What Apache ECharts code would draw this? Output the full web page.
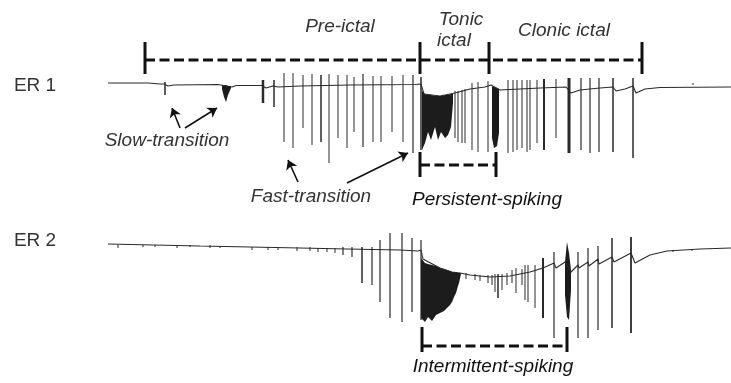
<!DOCTYPE html>
<html>
<head>
<meta charset="utf-8">
<script src="https://cdn.jsdelivr.net/npm/echarts@6/dist/echarts.min.js"></script>
<style>
  html, body { margin: 0; padding: 0; background: #fff; }
  #chart { width: 731px; height: 383px; }
</style>
</head>
<body>
<div id="chart"></div>
<script>
// time in arbitrary units, amplitude in arbitrary units (0 = resting level)

// ER 1 slow baseline [t, v]
const er1Baseline = [
  [0, 0], [40, 0], [52, -1], [56, -1], [60, -3], [66, -2], [110, -1.5], [124, -4], [128, -2.5],
  [154, -2.5], [158, -5], [165, -3], [170, -4], [192, -3], [242, -2], [307, -1.5], [313, -1],
  [316, -11], [332, -13], [347, -10], [362, -6], [377, -4], [383, -2], [392, -7], [432, -5],
  [458, -4], [463, -10], [472, -7], [482, -6], [492, -5], [505, -4], [508, -8], [517, -6],
  [525, -3], [528, -10], [537, -6], [552, -4.5], [623, -4]
];
// ER 1 spikes [t, top, bottom, width]
const er1Spikes = [
  [57, 1, -12, 1.5],
  [155, 3, -20, 2.5], [166, 3, -24, 1.5],
  [176, 10, -59, 1], [185, 10, -65, 1], [195, 8, -45, 1], [204, 9, -62, 1], [213, 8, -59, 1.5],
  [221, 9, -80, 1], [230, 8, -55, 1], [239, 8, -65, 1], [246, 6, -49, 1], [255, 9, -64, 1.2],
  [265, 7, -59, 1], [273, 7, -59, 1], [284, 7, -49, 1], [295, 8, -59, 1], [305, 8, -70, 1.2],
  [313, 6, -67, 1.5],
  [347, -8, -55, 1], [350, -8, -59, 1], [354, -7, -60, 1], [357, -6, -60, 1], [364, 0, -67, 1],
  [370, 1, -69, 1], [380, 2, -69, 1],
  [400, 3, -70, 1], [405, 3, -69, 1], [409, 3, -67, 1], [414, 3, -65, 1], [419, 3, -69, 1],
  [422, 3, -67, 1], [429, 3, -60, 1], [436, 4, -67, 2], [448, 4, -55, 1], [461, 5, -70, 3],
  [473, 5, -67, 1.2], [482, 5, -70, 1.2], [491, 5, -69, 1.2], [505, 5, -69, 1.5], [525, 5, -75, 1.5],
  [585, 0, -2, 1]
];
// ER 1 dense bursts, envelope [t, top, bottom]
const er1Bursts = [
  [[114, -2, -6], [116, -2, -14], [118, -2, -19], [120, -3, -12], [123, -3, -5]],
  [[314, -8, -67], [317, -11, -60], [320, -12, -49], [323, -12, -57], [327, -13, -44], [330, -13, -57],
   [333, -13, -49], [337, -12, -55], [340, -12, -52], [343, -11, -44], [345, -10, -20]],
  [[384, -3, -55], [386, -4, -65], [389, -5, -63], [391, -6, -50]]
];

// ER 2 slow baseline [t, v]
const er2Baseline = [
  [0, 1], [92, -1], [192, -3], [239, -4], [292, -5], [310, -6], [313, -5], [315, -14], [332, -23],
  [344, -27], [352, -28], [362, -30], [382, -32], [402, -31], [422, -27], [435, -23], [446, -18],
  [448, -23], [457, -17], [463, -27], [470, -20], [471, -23], [480, -17], [481, -21], [490, -14],
  [491, -19], [504, -12], [506, -17], [523, -8], [527, -18], [542, -10], [559, -6], [592, -4], [623, -3]
];
// ER 2 spikes [t, top, bottom, width]
const er2Spikes = [
  [10, 0, -3, 1], [35, 0, -2, 1], [47, 0, -2, 1], [69, 0, -3, 1], [82, 0, -2, 1], [102, 0, -3, 1],
  [112, -1, -3, 1], [144, -2, -5, 1], [160, -2, -5, 1], [170, -2, -5, 1], [189, -2, -6, 1],
  [202, -2, -6, 1], [210, -3, -7, 1], [219, -3, -7, 1], [227, -3, -8, 1], [235, -2, -10, 1.2],
  [244, -2, -12, 1.2],
  [254, -2, -38, 1.5], [264, -2, -40, 1.2], [272, 5, -57, 1.2], [282, 12, -73, 1.2], [294, 12, -77, 1.2],
  [304, 7, -67, 1.2], [313, 5, -75, 1.2],
  [358, -28, -34, 1], [367, -29, -35, 1], [372, -30, -36, 1], [380, -30, -38, 1], [384, -30, -40, 1],
  [387, -29, -47, 1], [390, -29, -53, 1.5], [394, -29, -45, 1], [399, -28, -40, 1], [404, -25, -38, 1],
  [408, -23, -48, 1], [414, -24, -40, 1], [417, -20, -55, 1], [420, -20, -57, 1], [427, -20, -63, 1],
  [435, -13, -73, 2], [446, -7, -93, 1.2], [470, -7, -93, 1.2], [480, -3, -93, 1.2],
  [490, -1, -85, 1.2], [504, 7, -83, 1.5], [523, 8, -88, 1.8],
  [565, -5, -7, 1], [584, -4, -6, 1]
];
const er2Bursts = [
  [[313, -13, -73], [317, -18, -77], [320, -19, -72], [324, -20, -76], [328, -21, -70], [332, -23, -68],
   [336, -24, -66], [339, -25, -63], [342, -26, -60], [344, -27, -57], [346, -27, -52], [348, -27, -48],
   [350, -28, -41], [351, -28, -38], [353, -28, -29]],
  [[457, -17, -50], [459, 3, -72], [461, -8, -75], [463, -25, -45]]
];

// phase boundaries (ER 1 time)
const phaseBounds = [37, 312, 381, 534];
const persistentRange = [312, 388];
const intermittentRange = [314, 459];

// arrows [from, to] in ER 1 coordinates
const slowArrows = [[[72, -45], [64, -25]], [[77, -45], [109, -25]]];
const fastArrows = [[[190, -99], [180, -77]], [[239, -100], [300, -70]]];

const INK = '#2a2a2a';

function spikeRender(params, api) {
  const t = api.value(0);
  const p1 = api.coord([t, api.value(1)]);
  const p2 = api.coord([t, api.value(2)]);
  const w = Math.max(api.size([api.value(3), 0])[0], 1);
  return {
    type: 'rect',
    shape: { x: p1[0] - w / 2, y: p1[1], width: w, height: p2[1] - p1[1] },
    style: { fill: INK }
  };
}

function burstSeries(bursts, axis) {
  return {
    type: 'custom',
    xAxisIndex: axis, yAxisIndex: axis,
    data: bursts.map((b, i) => [i]),
    renderItem: function (params, api) {
      const env = bursts[params.dataIndex];
      const top = env.map(p => api.coord([p[0], p[1]]));
      const bot = env.slice().reverse().map(p => api.coord([p[0], p[2]]));
      return { type: 'polygon', shape: { points: top.concat(bot) }, style: { fill: '#1c1c1c' } };
    },
    silent: true
  };
}

// bracket = dashed line + thick end bars
function bracketSeries(bounds, level, barTop, barBottom, axis) {
  return [
    {
      type: 'line', xAxisIndex: axis, yAxisIndex: axis,
      data: [[bounds[0], level], [bounds[bounds.length - 1], level]],
      showSymbol: false, silent: true,
      lineStyle: { color: '#111', width: 3, type: [10, 4.5] }
    },
    {
      type: 'custom', xAxisIndex: axis, yAxisIndex: axis,
      data: bounds.map(b => [b, barTop, barBottom, 3]),
      renderItem: function (params, api) {
        const r = spikeRender(params, api);
        r.style.fill = '#111';
        return r;
      },
      silent: true
    }
  ];
}

const chart = echarts.init(document.getElementById('chart'));

const txt = (text, x, y, font, color) => ({
  type: 'text', x: x, y: y, silent: true,
  style: { text: text, font: font, fill: color || '#222', textAlign: 'center', textVerticalAlign: 'middle' }
});
const ITAL = "italic 19px 'Liberation Sans', Arial, sans-serif";
const UPRIGHT = "19px 'Liberation Sans', Arial, sans-serif";

chart.setOption({
  animation: false,
  backgroundColor: '#fff',
  grid: [
    { left: 108, width: 623, top: 38, height: 175 },
    { left: 108, width: 623, top: 205, height: 175 }
  ],
  xAxis: [
    { type: 'value', gridIndex: 0, min: 0, max: 623, show: false },
    { type: 'value', gridIndex: 1, min: 0, max: 623, show: false }
  ],
  yAxis: [
    { type: 'value', gridIndex: 0, min: -130, max: 45, show: false },
    { type: 'value', gridIndex: 1, min: -135, max: 40, show: false }
  ],
  graphic: [
    txt('ER 1', 35, 86, UPRIGHT, '#333'),
    txt('ER 2', 35, 241, UPRIGHT, '#333'),
    txt('Pre-ictal', 340, 27, ITAL, '#333'),
    txt('Tonic', 461, 20, ITAL, '#333'),
    txt('ictal', 454, 41, ITAL, '#333'),
    txt('Clonic ictal', 564, 31, ITAL, '#333'),
    txt('Slow-transition', 167, 141, ITAL, '#333'),
    txt('Fast-transition', 311, 197, ITAL, '#333'),
    txt('Persistent-spiking', 487, 200, ITAL, '#111'),
    txt('Intermittent-spiking', 493, 367, ITAL, '#111')
  ],
  series: [
    {
      type: 'line', xAxisIndex: 0, yAxisIndex: 0, data: er1Baseline,
      showSymbol: false, silent: true, lineStyle: { color: INK, width: 1.1 }
    },
    { type: 'custom', xAxisIndex: 0, yAxisIndex: 0, data: er1Spikes, renderItem: spikeRender, silent: true },
    burstSeries(er1Bursts, 0),
    {
      type: 'line', xAxisIndex: 1, yAxisIndex: 1, data: er2Baseline,
      showSymbol: false, silent: true, lineStyle: { color: INK, width: 1.1 }
    },
    { type: 'custom', xAxisIndex: 1, yAxisIndex: 1, data: er2Spikes, renderItem: spikeRender, silent: true },
    burstSeries(er2Bursts, 1),
    ...bracketSeries(phaseBounds, 23, 41, 9, 0),
    ...bracketSeries(persistentRange, -82, -69, -94, 0),
    ...bracketSeries(intermittentRange, -101, -82, -107, 1),
    {
      type: 'lines', coordinateSystem: 'cartesian2d', xAxisIndex: 0, yAxisIndex: 0,
      data: slowArrows.concat(fastArrows).map(c => ({ coords: c })),
      symbol: ['none', 'arrow'], symbolSize: 9, silent: true,
      lineStyle: { color: '#111', width: 1.6, opacity: 1 }
    }
  ]
});
</script>
</body>
</html>
